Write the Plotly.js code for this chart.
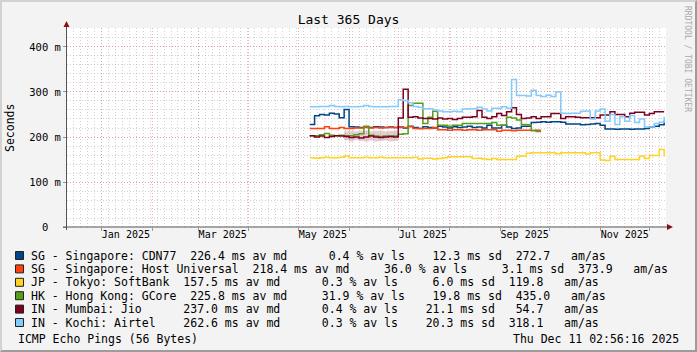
<!DOCTYPE html>
<html><head><meta charset="utf-8">
<script src="https://cdn.plot.ly/plotly-3.0.1.min.js"></script>
<style>
html,body{margin:0;padding:0;background:#f3f3f3;}
#wrap{position:relative;width:697px;height:352px;}
#chart{width:697px;height:352px;}
#frame{position:absolute;left:0;top:0;width:697px;height:352px;box-sizing:border-box;border-top:2px solid #d2d2d2;border-left:2px solid #d2d2d2;border-bottom:2px solid #9c9c9c;border-right:2px solid #9c9c9c;pointer-events:none;}
</style></head><body>
<div id="wrap"><div id="chart"></div><div id="frame"></div></div>
<script>
// ---- data ----
const dates = ['2025-05-08','2025-05-11','2025-05-14','2025-05-17','2025-05-20','2025-05-23','2025-05-26','2025-05-29',
'2025-06-01','2025-06-04','2025-06-07','2025-06-10','2025-06-13','2025-06-16','2025-06-19','2025-06-22','2025-06-25','2025-06-28',
'2025-07-01','2025-07-04','2025-07-07','2025-07-10','2025-07-13','2025-07-16','2025-07-19','2025-07-22','2025-07-25','2025-07-28','2025-07-31',
'2025-08-03','2025-08-06','2025-08-09','2025-08-12','2025-08-15','2025-08-18','2025-08-21','2025-08-24','2025-08-27','2025-08-30',
'2025-09-02','2025-09-05','2025-09-08','2025-09-11','2025-09-14','2025-09-17','2025-09-20','2025-09-23','2025-09-26','2025-09-29',
'2025-10-02','2025-10-05','2025-10-08','2025-10-11','2025-10-14','2025-10-17','2025-10-20','2025-10-23','2025-10-26','2025-10-29',
'2025-11-01','2025-11-04','2025-11-07','2025-11-10','2025-11-13','2025-11-16','2025-11-19','2025-11-22','2025-11-25','2025-11-28',
'2025-12-01','2025-12-04','2025-12-07','2025-12-10'];

const sgCdn77 = [228,247,250,249,253,251,243,261,223,222,221,222,221,223,222,221,222,221,
222,220,224,221,219,223,221,220,224,222,220,223,221,222,224,221,222,220,226,
220,220,226,222,219,220,224,224,232,233,234,233,234,234,233,229,229,229,
227,228,229,230,226,218,218,217,218,218,217,218,218,219,222,224,227,236];

const sgHostUniversal = [219,219,219,223,219,219,221,219,219,220,220,221,220,221,220,221,221,221,
221,221,223,219,219,219,219,221,216,216,215,216,216,215,216,216,215,216,216,
216,213,215,215,214,215,215,215,214,215,215,null,null,null,null,null,null,null,
null,null,null,null,null,null,null,null,null,null,null,null,null,null,null,null,null,null];

const jpSoftBank = [154,153,154,155,154,154,155,158,154,154,154,155,154,154,155,154,154,154,
154,154,154,155,151,153,153,151,152,154,156,156,156,156,156,152,153,151,150,
152,150,150,150,150,157,158,164,165,165,165,165,165,163,165,165,165,165,
165,162,165,165,149,148,157,150,150,150,150,150,158,152,159,159,172,156];

const hkGCore = [203,203,205,208,204,203,204,203,203,205,207,224,204,202,201,202,202,202,
206,207,270,275,275,230,244,257,226,226,224,226,226,230,230,230,230,230,230,
232,226,226,244,242,238,228,227,215,212,212,null,null,null,null,null,null,null,
null,null,null,null,null,null,null,null,null,null,null,null,null,null,null,null,null,null];

const inMumbaiJio = [203,200,202,199,201,203,202,201,199,200,198,200,202,200,199,200,201,200,
242,306,244,245,242,241,241,240,242,240,241,239,241,244,244,245,259,244,241,
245,252,248,256,265,250,241,242,245,241,245,245,252,252,241,245,245,244,
243,243,243,243,249,249,256,250,250,245,253,255,255,249,252,256,256,256];

const inKochiAirtel = [267,267,268,268,270,268,267,268,267,267,268,270,268,267,267,267,268,268,
283,281,276,268,266,263,263,260,258,256,256,257,256,262,263,263,266,262,258,
264,264,267,264,328,292,292,291,304,292,290,293,290,300,253,252,253,253,
257,258,240,258,262,235,250,228,245,235,248,232,240,222,222,230,233,245];

// spread band (Jio, May-Jul)
const bandDates = dates.slice(7, 19);
const bandLow  = [193,190,193,191,190,192,190,191,192,190,191,191];
const bandHigh = [213,214,213,214,214,213,214,214,213,214,214,214];

const seriesNames = ['SG - Singapore: CDN77','SG - Singapore: Host Universal','JP - Tokyo: SoftBank',
  'HK - Hong Kong: GCore','IN - Mumbai: Jio','IN - Kochi: Airtel'];
const seriesColors = ['#004586','#ff420e','#ffd320','#579d1c','#7e0021','#83caff'];
const seriesValues = [sgCdn77, sgHostUniversal, jpSoftBank, hkGCore, inMumbaiJio, inKochiAirtel];

const legendLines = [
 'SG - Singapore: CDN77  226.4 ms av md      0.4 % av ls    12.3 ms sd  272.7   am/as',
 'SG - Singapore: Host Universal  218.4 ms av md     36.0 % av ls     3.1 ms sd  373.9   am/as',
 'JP - Tokyo: SoftBank  157.5 ms av md      0.3 % av ls     6.0 ms sd  119.8   am/as',
 'HK - Hong Kong: GCore  225.8 ms av md     31.9 % av ls    19.8 ms sd  435.0   am/as',
 'IN - Mumbai: Jio      237.0 ms av md      0.4 % av ls    21.1 ms sd   54.7   am/as',
 'IN - Kochi: Airtel    262.6 ms av md      0.3 % av ls    20.3 ms sd  318.1   am/as'];

const yTickVals = [0,100,200,300,400];
const yTickText = ['0\u00a0\u00a0','100 m','200 m','300 m','400 m'];
const xLabelDates = ['2025-01-16','2025-03-16','2025-05-16','2025-07-16','2025-09-16','2025-11-16'];
const xLabels = ['Jan 2025','Mar 2025','May 2025','Jul 2025','Sep 2025','Nov 2025'];
const monthStarts = ['2025-01-01','2025-02-01','2025-03-01','2025-04-01','2025-05-01','2025-06-01',
  '2025-07-01','2025-08-01','2025-09-01','2025-10-01','2025-11-01','2025-12-01'];
const xRange = ['2024-12-11 02:56:16','2025-12-11 02:56:16'];

// ---- geometry helpers (pixel -> paper) ----
const L = 67, R = 666, T = 28, B = 227;
const W = R - L, H = B - T;
const px = x => (x - L) / W;
const py = y => (B - y) / H;
const MONO = 'DejaVu Sans Mono';
const RED = 'rgba(235,125,125,0.6)';
const GRAY = 'rgba(165,165,165,0.5)';
const nb = s => s.replace(/ /g, '\u00a0');

const traces = [];
traces.push({type:'scatter', mode:'lines', x: bandDates, y: bandLow, line:{width:0, shape:'hv'}, hoverinfo:'skip', showlegend:false});
traces.push({type:'scatter', mode:'lines', x: bandDates, y: bandHigh, line:{width:0, shape:'hv'}, fill:'tonexty', fillcolor:'rgba(126,0,33,0.2)', hoverinfo:'skip', showlegend:false});
traces.push({type:'scatter', mode:'lines', x:[dates[0]], y:[null], xaxis:'x2', hoverinfo:'skip', showlegend:false});
seriesValues.forEach((vals, i) => {
  traces.push({type:'scatter', mode:'lines', name: seriesNames[i], x: dates, y: vals,
    line:{color: seriesColors[i], width:1.5, shape:'hv'}, connectgaps:false, showlegend:false});
});

const annotations = [];
annotations.push({text:'Seconds', xref:'paper', yref:'paper', x: px(10), y: py(128), textangle:-90,
  showarrow:false, font:{family:MONO, size:11.5, color:'#000'}, xanchor:'center', yanchor:'middle'});
legendLines.forEach((t, i) => {
  annotations.push({text: nb(t), xref:'paper', yref:'paper', x: px(29), y: py(255.5 + 13.4*i),
    xanchor:'left', yanchor:'middle', showarrow:false, font:{family:MONO, size:11.5, color:'#000'}});
});
annotations.push({text: nb('ICMP Echo Pings (56 Bytes)'), xref:'paper', yref:'paper', x: px(16), y: py(338.5),
  xanchor:'left', yanchor:'middle', showarrow:false, font:{family:MONO, size:11.5, color:'#000'}});
annotations.push({text: nb('Thu Dec 11 02:56:16 2025'), xref:'paper', yref:'paper', x: px(681), y: py(338.5),
  xanchor:'right', yanchor:'middle', showarrow:false, font:{family:MONO, size:11.5, color:'#000'}});
annotations.push({text: nb('RRDTOOL / TOBI OETIKER'), xref:'paper', yref:'paper', x: px(688), y: py(59),
  xanchor:'center', yanchor:'middle', textangle:90, showarrow:false, font:{family:MONO, size:8, color:'#aaaaaa'}});

const shapes = [];
// axis lines with arrows
shapes.push({type:'line', xref:'paper', yref:'paper', x0: px(66.5), x1: px(66.5), y0: py(230), y1: py(26), line:{color:'#555', width:1}});
shapes.push({type:'line', xref:'paper', yref:'paper', x0: px(63), x1: px(668), y0: py(227), y1: py(227), line:{color:'#555', width:1}});
shapes.push({type:'path', xref:'paper', yref:'paper',
  path:`M ${px(63.5)},${py(27)} L ${px(69.5)},${py(27)} L ${px(66.5)},${py(21)} Z`, fillcolor:'#8b1010', line:{width:0}});
shapes.push({type:'path', xref:'paper', yref:'paper',
  path:`M ${px(667)},${py(224)} L ${px(667)},${py(230)} L ${px(673)},${py(227)} Z`, fillcolor:'#8b1010', line:{width:0}});
// legend swatches
seriesColors.forEach((c, i) => {
  const cy = 255.5 + 13.4*i;
  shapes.push({type:'rect', xref:'paper', yref:'paper', x0: px(15.5), x1: px(23.5), y0: py(cy+4), y1: py(cy-4),
    fillcolor: c, line:{color:'#222', width:1}});
});

const layout = {
  width:697, height:352,
  margin:{l:L, r:697-R, t:T, b:352-B, pad:0},
  paper_bgcolor:'#f3f3f3', plot_bgcolor:'#ffffff',
  showlegend:false,
  title:{text:'Last 365 Days', font:{family:MONO, size:13, color:'#000'}, x:0.5, xref:'container', xanchor:'center',
    y: 1 - 19/352, yref:'container', yanchor:'middle'},
  xaxis:{type:'date', range:xRange, tickmode:'array', tickvals:xLabelDates, ticktext:xLabels,
    showgrid:false, ticks:'', zeroline:false, showline:false, fixedrange:true,
    tickfont:{family:MONO, size:10, color:'#000'},
    minor:{tickmode:'array', tickvals:monthStarts, showgrid:true, gridcolor:RED, griddash:'1px,2px', gridwidth:1,
      ticks:'outside', ticklen:3, tickcolor:'#999'}},
  xaxis2:{type:'date', range:xRange, overlaying:'x', side:'bottom', showticklabels:false, ticks:'',
    tickmode:'linear', tick0:'2025-01-01', dtick:4.25*86400000, showgrid:true, gridcolor:GRAY, griddash:'1px,2px',
    zeroline:false, showline:false, fixedrange:true},
  yaxis:{range:[0,442.2], tickmode:'array', tickvals:yTickVals, ticktext:yTickText,
    showgrid:true, gridcolor:RED, griddash:'1px,2px', gridwidth:1, zeroline:false, showline:false,
    ticks:'outside', ticklen:3, tickcolor:'#999', fixedrange:true,
    tickfont:{family:MONO, size:10.5, color:'#000'},
    minor:{tickmode:'linear', tick0:0, dtick:20, showgrid:true, gridcolor:GRAY, griddash:'1px,2px', ticks:''}},
  annotations, shapes
};

Plotly.newPlot('chart', traces, layout, {staticPlot:true, displayModeBar:false});
</script>
</body></html>
